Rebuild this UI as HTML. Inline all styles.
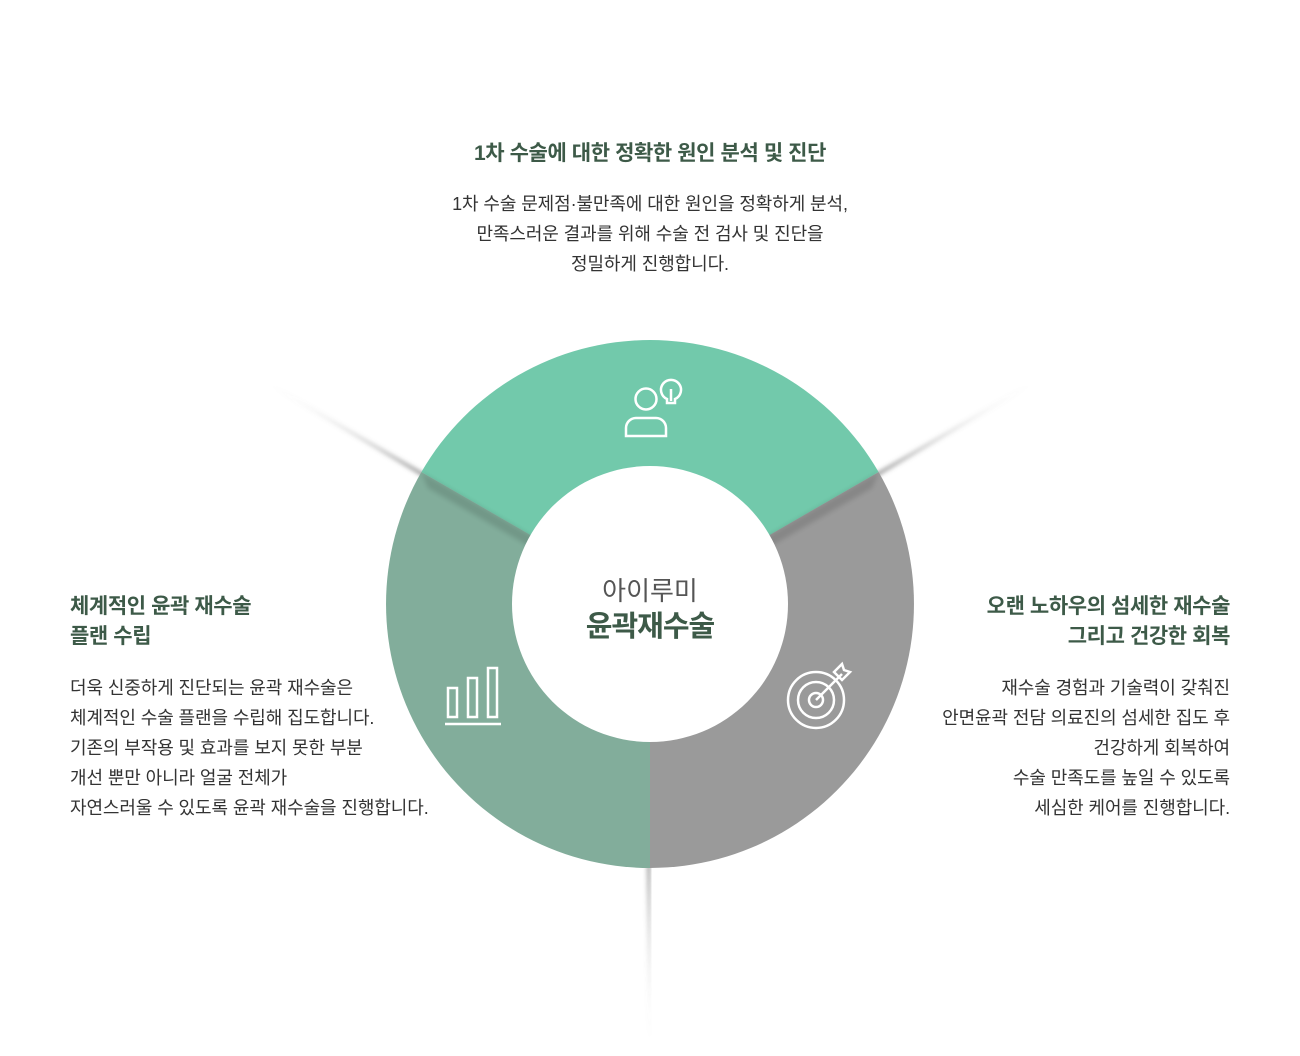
<!DOCTYPE html>
<html><head><meta charset="utf-8"><style>
body{margin:0;width:1300px;height:1056px;background:#fff;position:relative;overflow:hidden;font-family:"Liberation Sans","Noto Sans CJK KR",sans-serif;color:#333}
.t{position:absolute;font-weight:bold;font-size:21px;color:#3d5a48;line-height:30px;letter-spacing:-0.4px}
.b{position:absolute;font-size:18px;line-height:30px;color:#333;letter-spacing:-0.1px}
</style></head><body>
<svg width="1300" height="1056" style="position:absolute;left:0;top:0">
<defs>
<filter id="bl" x="-20%" y="-20%" width="140%" height="140%"><feGaussianBlur stdDeviation="2.5"/></filter>
<linearGradient id="g1" x1="650" y1="604" x2="262" y2="380" gradientUnits="userSpaceOnUse"><stop offset="0.55" stop-color="#555" stop-opacity="0.9"/><stop offset="1" stop-color="#888" stop-opacity="0"/></linearGradient>
<linearGradient id="g2" x1="650" y1="604" x2="1038" y2="380" gradientUnits="userSpaceOnUse"><stop offset="0.55" stop-color="#555" stop-opacity="0.9"/><stop offset="1" stop-color="#888" stop-opacity="0"/></linearGradient>
<linearGradient id="g3" x1="650" y1="604" x2="650" y2="1050" gradientUnits="userSpaceOnUse"><stop offset="0.55" stop-color="#555" stop-opacity="0.9"/><stop offset="1" stop-color="#888" stop-opacity="0"/></linearGradient>
</defs>
<polygon points="262,380 650,604 647,610" fill="url(#g1)" filter="url(#bl)"/>
<polygon points="1038,380 650,604 653,610" fill="url(#g2)" filter="url(#bl)"/>
<polygon points="650,1050 650,604 644,604" fill="url(#g3)" filter="url(#bl)"/>
<path d="M650,604 L421.4,472 A264,264 0 0,0 650,868 Z" fill="#82ad9b"/>
<path d="M650,604 L650,868 A264,264 0 0,0 878.6,472 Z" fill="#9a9a9a"/>
<path d="M650,604 L878.6,472 A264,264 0 0,0 421.4,472 Z" fill="#72c9ab"/>
<polygon points="421,472 650,604 640,610 428,488" fill="#000" opacity="0.12" filter="url(#bl)"/>
<polygon points="879,472 650,604 660,610 872,488" fill="#000" opacity="0.12" filter="url(#bl)"/>
<circle cx="650" cy="604" r="138" fill="#fff"/>
<g stroke="#fff" stroke-width="2.5" fill="none">
<circle cx="646" cy="399" r="10.5"/>
<path d="M626,436 v-8 a10,10 0 0 1 10,-10 h20 a10,10 0 0 1 10,10 v8 z"/>
<path d="M667,403 v-4 a10,10 0 1 1 8,0 v4 z M671,389 v12"/>
</g>
<g stroke="#fff" stroke-width="2.5" fill="none">
<rect x="448" y="688" width="9" height="29"/><rect x="468" y="678" width="9" height="39"/><rect x="488" y="668" width="9" height="49"/>
<path d="M445,724 h56"/>
</g>
<g stroke="#fff" stroke-width="2.5" fill="none">
<circle cx="816" cy="700" r="28"/><circle cx="816" cy="700" r="18"/><circle cx="816" cy="700" r="7"/>
<path d="M816,700 L842,674 M834,672 l8,-8 l2,6 l6,2 l-8,8 z"/>
</g>
</svg>
<div class="t" style="left:350px;width:600px;top:139px;text-align:center">1차 수술에 대한 정확한 원인 분석 및 진단</div>
<div class="b" style="left:300px;width:700px;top:189px;text-align:center">1차 수술 문제점·불만족에 대한 원인을 정확하게 분석,<br>만족스러운 결과를 위해 수술 전 검사 및 진단을<br>정밀하게 진행합니다.</div>
<div class="t" style="left:70px;top:592px">체계적인 윤곽 재수술<br>플랜 수립</div>
<div class="b" style="left:70px;top:673px">더욱 신중하게 진단되는 윤곽 재수술은<br>체계적인 수술 플랜을 수립해 집도합니다.<br>기존의 부작용 및 효과를 보지 못한 부분<br>개선 뿐만 아니라 얼굴 전체가<br>자연스러울 수 있도록 윤곽 재수술을 진행합니다.</div>
<div class="t" style="right:70px;top:592px;text-align:right">오랜 노하우의 섬세한 재수술<br>그리고 건강한 회복</div>
<div class="b" style="right:70px;top:673px;text-align:right">재수술 경험과 기술력이 갖춰진<br>안면윤곽 전담 의료진의 섬세한 집도 후<br>건강하게 회복하여<br>수술 만족도를 높일 수 있도록<br>세심한 케어를 진행합니다.</div>
<div style="position:absolute;left:550px;width:200px;top:574px;text-align:center;font-size:26px;color:#555;line-height:34px">아이루미</div>
<div style="position:absolute;left:550px;width:200px;top:609px;text-align:center;font-size:29px;font-weight:bold;color:#3d5a48;line-height:36px;letter-spacing:-1px">윤곽재수술</div>
</body></html>
